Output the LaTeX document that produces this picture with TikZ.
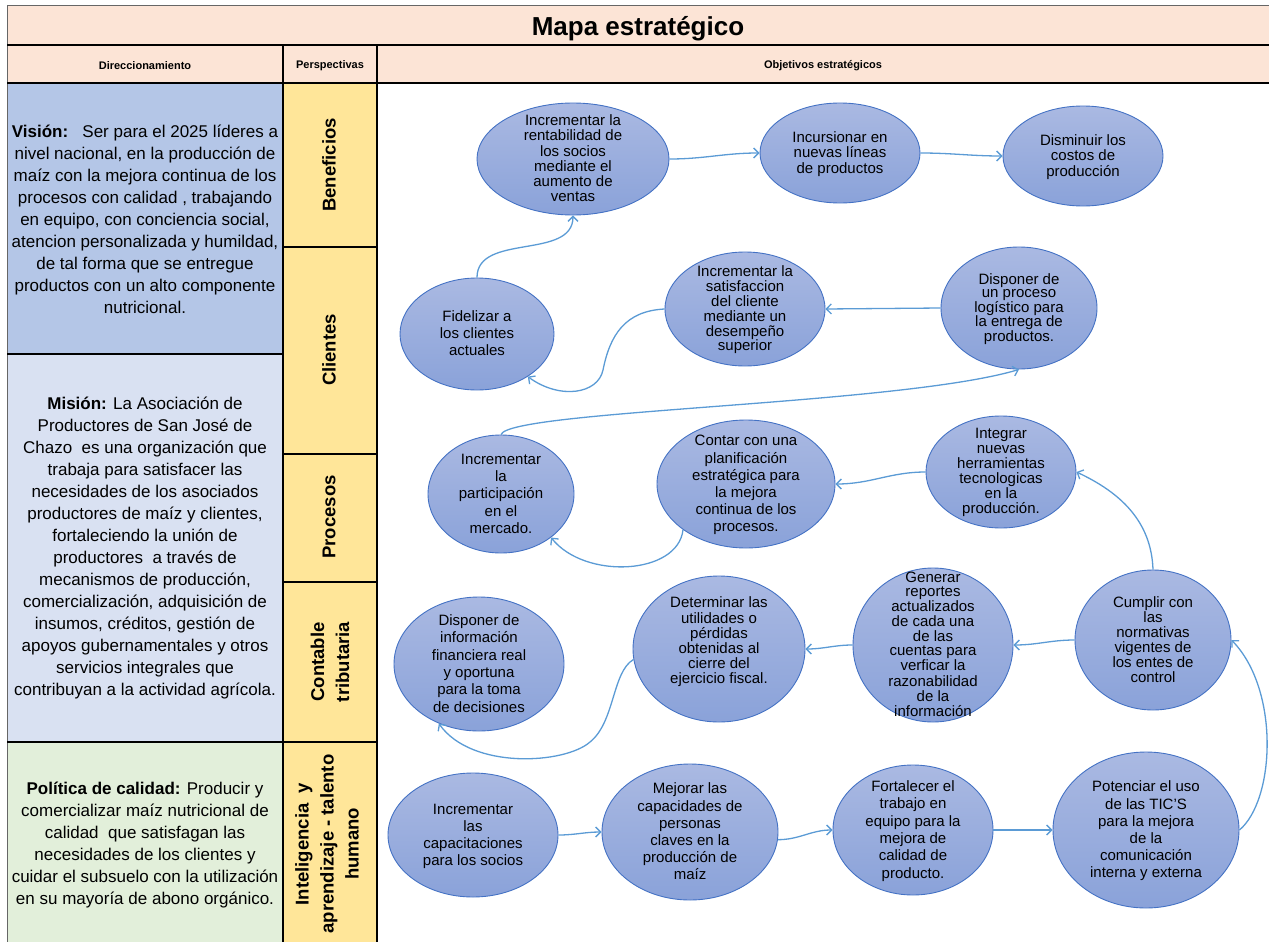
\documentclass[tikz,border=0pt]{standalone}
\usepackage{fontspec}
\setmainfont{Liberation Sans}
\usetikzlibrary{shapes.geometric,arrows.meta}
\definecolor{peach}{HTML}{FCE4D6}
\definecolor{vis}{HTML}{B4C6E7}
\definecolor{mis}{HTML}{D9E1F2}
\definecolor{pol}{HTML}{E2EFDA}
\definecolor{persp}{HTML}{FFE699}
\definecolor{etop}{HTML}{AAB9E2}
\definecolor{ebot}{HTML}{8AA2D9}
\definecolor{eborder}{HTML}{4472C4}
\definecolor{arrowc}{HTML}{5B9BD5}
\newcommand\etx[3][-5]{\smash{\makebox[0pt]{\raisebox{#1pt}{\fontsize{15}{#2}\selectfont\begin{tabular}{@{}c@{}}#3\end{tabular}}}}}
\begin{document}
\begin{tikzpicture}[x=1pt,y=1pt,
  obj/.style={ellipse, draw=eborder, line width=0.9pt, top color=etop, bottom color=ebot, inner sep=0pt},
  link/.style={draw=arrowc, line width=1.3pt, -{Straight Barb[length=5pt,width=10pt]}},
  gridline/.style={line width=2pt, black},
  thinframe/.style={line width=0.8pt, gray!80!black},
  lefttext/.style={align=center, font=\fontsize{17}{22}\selectfont},
  persplabel/.style={rotate=90, align=center, font=\fontsize{18.5}{25}\selectfont\bfseries},
  headtext/.style={font=\fontsize{11}{13}\selectfont\bfseries}]
\useasboundingbox (0,0) rectangle (1269,-942);
% fills
\fill[peach] (7,-5) rectangle (1269,-83);
\fill[vis] (7,-83) rectangle (283,-354);
\fill[mis] (7,-354) rectangle (283,-742);
\fill[pol] (7,-742) rectangle (283,-942);
\fill[persp] (283,-83) rectangle (377,-942);
% frame lines
\draw[thinframe] (7,-5) -- (1269,-5);
\draw[thinframe] (7,-5) -- (7,-942);
\draw[gridline] (7,-45) -- (1269,-45);
\draw[gridline] (7,-83) -- (1269,-83);
\draw[gridline] (283,-45) -- (283,-942);
\draw[gridline] (377,-45) -- (377,-942);
\draw[gridline] (7,-354) -- (283,-354);
\draw[gridline] (7,-742) -- (377,-742);
\draw[gridline] (283,-247) -- (377,-247);
\draw[gridline] (283,-454) -- (377,-454);
\draw[gridline] (283,-582) -- (377,-582);
% title and headers
\node[font=\fontsize{26}{30}\selectfont\bfseries] (title) at (638,-29) {Mapa estratégico};
\node[headtext] (h1) at (145,-66) {Direccionamiento};
\node[headtext] (h2) at (330,-66) {Perspectivas};
\node[headtext] (h3) at (823,-66) {Objetivos estratégicos};
% left column
\node[lefttext] (vision) at (145,-219) {\textbf{Visión:}\ \ \ Ser para el 2025 líderes a\\nivel nacional, en la producción de\\maíz con la mejora continua de los\\procesos con calidad , trabajando\\en equipo, con conciencia social,\\atencion personalizada y humildad,\\de tal forma que se entregue\\productos con un alto componente\\nutricional.};
\node[lefttext] (mision) at (145,-548) {\textbf{Misión:} La Asociación de\\Productores de San José de\\Chazo\ \ es una organización que\\trabaja para satisfacer las\\necesidades de los asociados\\productores de maíz y clientes,\\fortaleciendo la unión de\\productores\ \ a través de\\mecanismos de producción,\\comercialización, adquisición de\\insumos, créditos, gestión de\\apoyos gubernamentales y otros\\servicios integrales que\\contribuyan a la actividad agrícola.};
\node[lefttext] (politica) at (145,-845) {\textbf{Política de calidad:} Producir y\\comercializar maíz nutricional de\\calidad\ \ que satisfagan las\\necesidades de los clientes y\\cuidar el subsuelo con la utilización\\en su mayoría de abono orgánico.};
% perspectives
\node[persplabel] (pben) at (329,-165) {Beneficios};
\node[persplabel] (pcli) at (329,-350) {Clientes};
\node[persplabel] (ppro) at (329,-517) {Procesos};
\node[persplabel] (pcon) at (330,-662) {Contable\\tributaria};
\node[persplabel] (pint) at (327,-844) {Inteligencia\ \ y\\aprendizaje - talento\\humano};
% objectives
\node[obj, minimum width=192pt, minimum height=112pt] (e1) at (573,-159) {\etx{15}{Incrementar la\\rentabilidad de\\los socios\\mediante el\\aumento de\\ventas}};
\node[obj, minimum width=160pt, minimum height=100pt] (e2) at (840,-153) {\etx{15}{Incursionar en\\nuevas líneas\\de productos}};
\node[obj, minimum width=160pt, minimum height=100pt] (e3) at (1083,-156) {\etx{15}{Disminuir los\\costos de\\producción}};
\node[obj, minimum width=154pt, minimum height=112pt] (e4) at (477,-334) {\etx{17}{Fidelizar a\\los clientes\\actuales}};
\node[obj, minimum width=160pt, minimum height=114pt] (e5) at (745,-309) {\etx{13}{Incrementar la\\satisfaccion\\del cliente\\mediante un\\desempeño\\superior}};
\node[obj, minimum width=156pt, minimum height=122pt] (e6) at (1019,-308) {\etx{13}{Disponer de\\un proceso\\logístico para\\la entrega de\\productos.}};
\node[obj, minimum width=146pt, minimum height=118pt] (e7) at (501,-494) {\etx{17.3}{Incrementar\\la\\participación\\en el\\mercado.}};
\node[obj, minimum width=178pt, minimum height=128pt] (e8) at (746,-484) {\etx{17.2}{Contar con una\\planificación\\estratégica para\\la mejora\\continua de los\\procesos.}};
\node[obj, minimum width=150pt, minimum height=112pt] (e9) at (1001,-472) {\etx{14.2}{Integrar\\nuevas\\herramientas\\tecnologicas\\en la\\producción.}};
\node[obj, minimum width=170pt, minimum height=134pt] (e10) at (479,-664) {\etx{17.4}{Disponer de\\información\\financiera real\\y oportuna\\para la toma\\de decisiones}};
\node[obj, minimum width=172pt, minimum height=146pt] (e11) at (719,-649) {\etx[3]{14}{Determinar las\\utilidades o\\pérdidas\\obtenidas al\\cierre del\\ejercicio fiscal.}};
\node[obj, minimum width=160pt, minimum height=154pt] (e12) at (933,-645) {\etx{14}{Generar\\reportes\\actualizados\\de cada una\\de las\\cuentas para\\verficar la\\razonabilidad\\de la\\información}};
\node[obj, minimum width=156pt, minimum height=140pt] (e13) at (1153,-640) {\etx{14}{Cumplir con\\las\\normativas\\vigentes de\\los entes de\\control}};
\node[obj, minimum width=170pt, minimum height=124pt] (e14) at (473,-835) {\etx{17}{Incrementar\\las\\capacitaciones\\para los socios}};
\node[obj, minimum width=176pt, minimum height=136pt] (e15) at (690,-832) {\etx{17.2}{Mejorar las\\capacidades de\\personas\\claves en la\\producción de\\maíz}};
\node[obj, minimum width=160pt, minimum height=130pt] (e16) at (913,-830) {\etx{17.4}{Fortalecer el\\trabajo en\\equipo para la\\mejora de\\calidad de\\producto.}};
\node[obj, minimum width=186pt, minimum height=156pt] (e17) at (1146,-830) {\etx{17.2}{Potenciar el uso\\de las TIC’S\\para la mejora\\de la\\comunicación\\interna y externa}};
% connectors
\draw[link] (e1.east) to[out=0,in=180] (e2.west);
\draw[link] (e2.east) to[out=0,in=180] (e3.west);
\draw[link] (e4.north) to[out=90,in=-90] (e1.south);
\draw[link] (e5.west) .. controls (625,-311) and (610,-335) .. (603,-370) .. controls (598,-394) and (560,-400) .. (e4.-40);
\draw[link] (e6.west) -- (e5.east);
\draw[link] (e7.north) .. controls (510,-410) and (900,-405) .. (e6.south);
\draw[link] (e8.-144) .. controls (678,-575) and (585,-580) .. (e7.-41);
\draw[link] (e9.west) to[out=180,in=0] (e8.east);
\draw[link] (e13.north) to[out=92,in=-25] (e9.east);
\draw[link] (e13.west) to[out=180,in=0] (e12.east);
\draw[link] (e12.west) to[out=180,in=0] (e11.east);
\draw[link] (e11.187) .. controls (612,-672) and (615,-722) .. (590,-742) .. controls (565,-764) and (472,-770) .. (e10.236);
\draw[link] (e14.east) to[out=0,in=180] (e15.west);
\draw[link] (e15.-5) to[out=0,in=180] (e16.west);
\draw[link] (e16.east) -- (e17.west);
\draw[link] (e17.east) .. controls (1275,-800) and (1280,-690) .. (e13.east);
\end{tikzpicture}
\end{document}
